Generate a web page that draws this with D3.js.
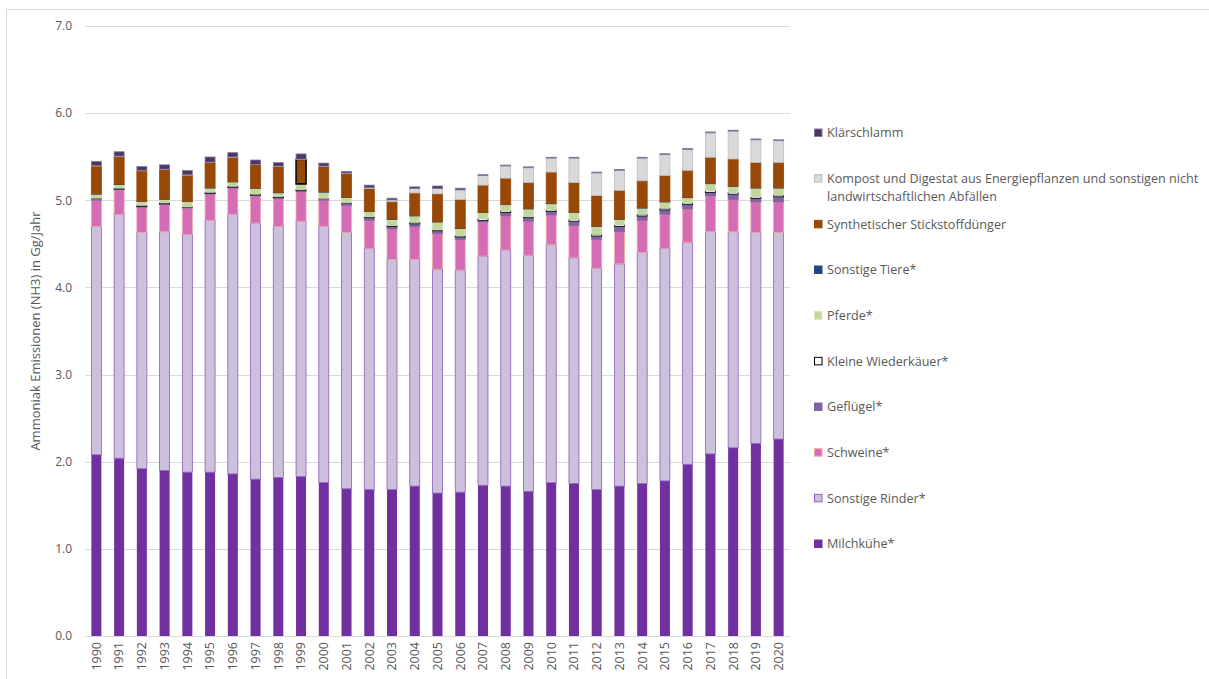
<!DOCTYPE html>
<html><head><meta charset="utf-8">
<script src="https://cdn.jsdelivr.net/npm/d3@7"></script>
<style>
html,body{margin:0;padding:0;background:#fff;}
text{font-family:"Open Sans",sans-serif;}
</style></head>
<body>
<svg id="chart" width="1209" height="679"></svg>
<script>
const years = ["1990","1991","1992","1993","1994","1995","1996","1997","1998","1999","2000","2001","2002","2003","2004","2005","2006","2007","2008","2009","2010","2011","2012","2013","2014","2015","2016","2017","2018","2019","2020"];
const yTicks = [0,1,2,3,4,5,6,7];
const milchkuehe     = [2.08,2.04,1.92,1.90,1.88,1.88,1.86,1.80,1.82,1.83,1.76,1.69,1.68,1.68,1.72,1.64,1.65,1.73,1.72,1.66,1.76,1.75,1.68,1.72,1.75,1.78,1.97,2.09,2.16,2.21,2.26];
const sonstigeRinder = [2.62,2.80,2.71,2.74,2.73,2.89,2.98,2.94,2.88,2.93,2.94,2.94,2.77,2.64,2.60,2.57,2.55,2.63,2.71,2.71,2.73,2.59,2.54,2.55,2.65,2.67,2.55,2.55,2.48,2.42,2.37];
const schweine       = [0.30,0.28,0.29,0.31,0.30,0.30,0.30,0.31,0.32,0.34,0.30,0.31,0.32,0.35,0.38,0.41,0.35,0.39,0.39,0.39,0.34,0.37,0.33,0.37,0.37,0.39,0.38,0.41,0.37,0.35,0.35];
const gefluegel      = [0.02,0.01,0.01,0.01,0.01,0.01,0.01,0.01,0.01,0.01,0.02,0.03,0.03,0.03,0.03,0.03,0.03,0.02,0.04,0.04,0.04,0.05,0.04,0.06,0.05,0.05,0.05,0.04,0.06,0.04,0.06];
const kleineWiederkaeuer = [0.005,0.01,0.015,0.015,0.005,0.015,0.015,0.015,0.015,0.015,0.003,0.003,0.01,0.01,0.02,0.01,0.015,0.02,0.02,0.01,0.02,0.02,0.02,0.02,0.02,0.02,0.02,0.02,0.02,0.02,0.02];
const pferde         = [0.045,0.04,0.04,0.035,0.06,0.045,0.045,0.06,0.04,0.06,0.07,0.06,0.06,0.07,0.07,0.09,0.08,0.07,0.07,0.09,0.07,0.08,0.09,0.06,0.07,0.07,0.06,0.08,0.07,0.10,0.08];
const sonstigeTiere  = [0.004,0.004,0.004,0.004,0.004,0.004,0.004,0.004,0.004,0.004,0.004,0.004,0.004,0.004,0.004,0.004,0.004,0.004,0.004,0.004,0.004,0.004,0.004,0.004,0.004,0.004,0.004,0.004,0.004,0.004,0.004];
const synthDuenger   = [0.32,0.32,0.35,0.34,0.30,0.29,0.28,0.27,0.30,0.28,0.29,0.27,0.26,0.20,0.26,0.32,0.33,0.31,0.30,0.30,0.36,0.34,0.35,0.33,0.31,0.30,0.31,0.30,0.31,0.29,0.29];
const kompost        = [0.003,0.003,0.003,0.003,0.003,0.003,0.003,0.003,0.003,0.003,0.005,0.005,0.01,0.02,0.05,0.06,0.11,0.11,0.14,0.17,0.16,0.28,0.26,0.23,0.26,0.24,0.24,0.28,0.32,0.26,0.25];
const klaerschlamm   = [0.05,0.05,0.045,0.05,0.05,0.06,0.05,0.05,0.04,0.06,0.035,0.02,0.03,0.02,0.02,0.03,0.02,0.01,0.01,0.01,0.01,0.01,0.01,0.01,0.01,0.01,0.01,0.01,0.01,0.01,0.01];

const seriesNames = ["Milchkühe*","Sonstige Rinder*","Schweine*","Geflügel*","Kleine Wiederkäuer*","Pferde*","Sonstige Tiere*","Synthetischer Stickstoffdünger","Kompost und Digestat aus Energiepflanzen und sonstigen nicht landwirtschaftlichen Abfällen","Klärschlamm"];
const seriesValues = [milchkuehe,sonstigeRinder,schweine,gefluegel,kleineWiederkaeuer,pferde,sonstigeTiere,synthDuenger,kompost,klaerschlamm];
const fills   = ["#7030A0","#CCC0DA","#D46CB6","#8064A2","#FFFFFF","#C3D69B","#1F497D","#984807","#D9D9D9","#4B3762"];
const strokes = ["#7030A0","#8E5EC0","#F0A8A8","#8064A2","#000000","#D7E4BC","#1F497D","#984807","#BFBFBF","#8A7A9E"];
const highlightYear = "1999"; // selected point outline visible in the original

const rows = years.map((y,i)=>{const r={year:y}; seriesNames.forEach((n,k)=>r[n]=seriesValues[k][i]); return r;});
const stack = d3.stack().keys(seriesNames)(rows);

const svg = d3.select("#chart");
svg.append("rect").attr("x",6.5).attr("y",9.5).attr("width",1215).attr("height",690)
  .attr("fill","none").attr("stroke","#D9D9D9").attr("stroke-width",1);

const x = d3.scaleBand().domain(years).range([85,790]).paddingInner(0.56).paddingOuter(0.28);
const y = d3.scaleLinear().domain([0,7]).range([636,26]);

svg.append("g").selectAll("line").data(yTicks).join("line")
  .attr("x1",85).attr("x2",790)
  .attr("y1",d=>Math.round(y(d))+0.5).attr("y2",d=>Math.round(y(d))+0.5)
  .attr("stroke","#D9D9D9").attr("stroke-width",1);

const yAxis = d3.axisLeft(y).tickValues(yTicks).tickFormat(d3.format(".1f")).tickSize(0).tickPadding(0);
const gy = svg.append("g").attr("transform","translate(72,0)").call(yAxis);
gy.select(".domain").remove();
gy.selectAll("text").attr("font-size",12).attr("fill","#595959").attr("font-family","Open Sans, sans-serif");

const layers = svg.append("g").selectAll("g").data(stack).join("g")
  .attr("fill",(d,i)=>fills[i]).attr("stroke",(d,i)=>strokes[i]).attr("stroke-width",(d,i)=>i===0?0:0.8);
layers.selectAll("rect").data(d=>d).join("rect")
  .attr("x",d=>x(d.data.year)).attr("width",x.bandwidth())
  .attr("y",d=>y(d[1])).attr("height",d=>Math.max(0,y(d[0])-y(d[1])));
// selection outline on the 1999 fertiliser segment
layers.filter((d,i)=>i===7).selectAll("rect").filter(d=>d.data.year===highlightYear)
  .attr("stroke","#000").attr("stroke-width",1.5).raise();

const xAxis = d3.axisBottom(x).tickSize(0).tickPadding(0);
const gx = svg.append("g").attr("transform","translate(0,636)").call(xAxis);
gx.select(".domain").remove();
svg.append("line").attr("x1",85).attr("x2",790).attr("y1",636.5).attr("y2",636.5).attr("stroke","#D9D9D9");
gx.selectAll("text").attr("font-size",12.5).attr("fill","#595959").attr("font-family","Open Sans, sans-serif")
  .attr("transform","rotate(-90)").attr("text-anchor","end").attr("dy","0.35em").attr("x",-6).attr("y",0);

svg.append("text").attr("transform","translate(40,331) rotate(-90)").attr("text-anchor","middle")
  .attr("font-size",13).attr("fill","#595959").text("Ammoniak Emissionen (NH3) in Gg/Jahr");

const legendOrder = seriesNames.map((n,i)=>i).reverse();
const lg = svg.append("g");
const legendLines = {8:["Kompost und Digestat aus Energiepflanzen und sonstigen nicht","landwirtschaftlichen Abfällen"]};
legendOrder.forEach((k,j)=>{
  const ly = 133 + j*45.67;
  lg.append("rect").attr("x",814.5).attr("y",ly-4).attr("width",7.5).attr("height",7.5)
    .attr("fill",fills[k]).attr("stroke",k===0?fills[k]:strokes[k]).attr("stroke-width",1);
  const lines = legendLines[k] || [seriesNames[k]];
  lines.forEach((t,li)=>{
    lg.append("text").attr("x",827).attr("y",ly+li*18).attr("dy","0.35em")
      .attr("font-size",12.6).attr("fill","#595959").text(t);
  });
});
</script>
</body></html>
